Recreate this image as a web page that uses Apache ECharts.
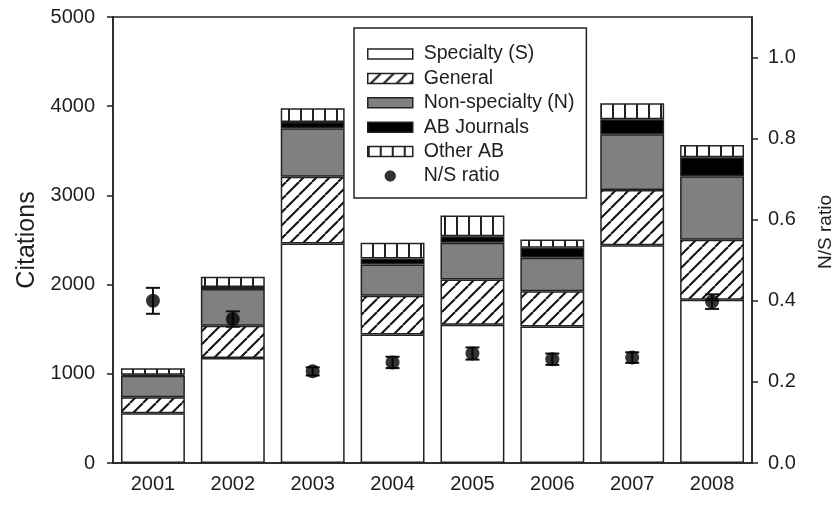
<!DOCTYPE html>
<html>
<head>
<meta charset="utf-8">
<script src="https://cdn.jsdelivr.net/npm/echarts@6/dist/echarts.min.js"></script>
<style>html,body{margin:0;padding:0;background:#fff}#c{width:839px;height:506px}</style>
</head>
<body>
<div id="c"></div>
<script>
const years = ['2001','2002','2003','2004','2005','2006','2007','2008'];
const specialty   = [558, 1176, 2461, 1440, 1550, 1531, 2440, 1831];
const general     = [180,  363,  749,  436,  506,  394,  620,  671];
const nonSpecialty= [240,  413,  543,  349,  413,  375,  625,  712];
const abJournals  = [10,    22,   71,   67,   74,  112,  169,  213];
const otherAB     = [75,   113,  154,  177,  232,   94,  180,  139];
const nsRatio     = [0.400, 0.355, 0.226, 0.248, 0.270, 0.256, 0.260, 0.398];
const nsError     = [0.032, 0.019, 0.010, 0.014, 0.015, 0.014, 0.013, 0.018];
const leftTicks   = [0, 1000, 2000, 3000, 4000, 5000];
const rightTicks  = [0, 0.2, 0.4, 0.6, 0.8, 1.0];

function hatch() {
  const s = 13, c = document.createElement('canvas');
  c.width = s; c.height = s;
  const x = c.getContext('2d');
  x.fillStyle = '#fff'; x.fillRect(0, 0, s, s);
  x.strokeStyle = '#111'; x.lineWidth = 2;
  for (const k of [-1, 0, 1]) { x.beginPath(); x.moveTo(k * s, s); x.lineTo(k * s + s, 0); x.stroke(); }
  return { image: c, repeat: 'repeat' };
}
function vlines() {
  const w = 12, h = 12, c = document.createElement('canvas');
  c.width = w; c.height = h;
  const x = c.getContext('2d');
  x.fillStyle = '#fff'; x.fillRect(0, 0, w, h);
  x.fillStyle = '#222'; x.fillRect(0, 0, 2, h);
  return { image: c, repeat: 'repeat' };
}

const font = 'Liberation Sans, Arial, sans-serif';
const txt = '#1e1e1e';
const border = { borderColor: '#222', borderWidth: 1.5 };
function barSeries(name, data, color) {
  return { name, type: 'bar', stack: 'c', data, barWidth: '80%', yAxisIndex: 0,
    itemStyle: Object.assign({ color }, border), emphasis: { disabled: true } };
}

const chart = echarts.init(document.getElementById('c'), null, { renderer: 'canvas' });
chart.setOption({
  animation: false,
  backgroundColor: '#fff',
  textStyle: { fontFamily: font, color: txt },
  grid: { left: 113, right: 87, top: 17, bottom: 43, show: true, borderColor: '#222', borderWidth: 1.5,
    backgroundColor: 'transparent', containLabel: false, outerBoundsMode: 'none' },
  legend: {
    orient: 'vertical', left: 354, top: 28,
    padding: [16, 12, 12, 13], itemGap: 4.4,
    itemWidth: 45, itemHeight: 10,
    borderColor: '#222', borderWidth: 1.5, backgroundColor: '#fff',
    itemStyle: { borderColor: '#222', borderWidth: 1.5 },
    textStyle: { fontFamily: font, fontSize: 19.5, color: txt, padding: [0, 0, 0, 6] },
    data: [
      { name: 'Specialty (S)', icon: 'rect' },
      { name: 'General', icon: 'rect' },
      { name: 'Non-specialty (N)', icon: 'rect' },
      { name: 'AB Journals', icon: 'rect' },
      { name: 'Other AB', icon: 'rect' },
      { name: 'N/S ratio', icon: 'circle' }
    ]
  },
  xAxis: {
    type: 'category', data: years, boundaryGap: true,
    axisLine: { lineStyle: { color: '#222', width: 1.5 } },
    axisTick: { alignWithLabel: true, length: 6, lineStyle: { color: '#222', width: 1.5 } },
    axisLabel: { fontSize: 20, color: txt, fontFamily: font, margin: 11 },
    splitLine: { show: false }
  },
  yAxis: [
    { type: 'value', min: 0, max: 5000, interval: 1000, position: 'left',
      name: 'Citations', nameLocation: 'middle', nameGap: 60, nameRotate: 90,
      nameTextStyle: { fontSize: 25, color: txt, fontFamily: font },
      axisLine: { show: true, lineStyle: { color: '#222', width: 1.5 } },
      axisTick: { show: true, length: 6, lineStyle: { color: '#222', width: 1.5 } },
      axisLabel: { fontSize: 20, color: txt, fontFamily: font, margin: 18,
        customValues: leftTicks, formatter: v => String(v) },
      splitLine: { show: false } },
    { type: 'value', min: 0, max: 1.1, interval: 0.2, position: 'right',
      name: 'N/S ratio', nameLocation: 'middle', nameGap: 64, nameRotate: 90,
      nameTextStyle: { fontSize: 19, color: txt, fontFamily: font, padding: [0, 0, 0, 16] },
      axisLine: { show: true, lineStyle: { color: '#222', width: 1.5 } },
      axisTick: { show: true, length: 6, customValues: rightTicks, lineStyle: { color: '#222', width: 1.5 } },
      axisLabel: { fontSize: 20, color: txt, fontFamily: font, margin: 16,
        customValues: rightTicks, formatter: v => v.toFixed(1) },
      splitLine: { show: false } }
  ],
  series: [
    barSeries('Specialty (S)', specialty, '#ffffff'),
    barSeries('General', general, hatch()),
    barSeries('Non-specialty (N)', nonSpecialty, '#808080'),
    barSeries('AB Journals', abJournals, '#000000'),
    barSeries('Other AB', otherAB, vlines()),
    {
      name: 'err', type: 'custom', yAxisIndex: 1, z: 5,
      data: nsRatio.map((v, i) => [i, v - nsError[i], v + nsError[i]]),
      renderItem: function (params, api) {
        const lo = api.coord([api.value(0), api.value(1)]);
        const hi = api.coord([api.value(0), api.value(2)]);
        const hw = 7;
        const st = { stroke: '#111', lineWidth: 2 };
        return { type: 'group', children: [
          { type: 'line', shape: { x1: lo[0], y1: lo[1], x2: hi[0], y2: hi[1] }, style: st },
          { type: 'line', shape: { x1: lo[0] - hw, y1: lo[1], x2: lo[0] + hw, y2: lo[1] }, style: st },
          { type: 'line', shape: { x1: hi[0] - hw, y1: hi[1], x2: hi[0] + hw, y2: hi[1] }, style: st }
        ] };
      }
    },
    { name: 'N/S ratio', type: 'scatter', yAxisIndex: 1, z: 6, data: nsRatio,
      symbol: 'circle', symbolSize: 14, itemStyle: { color: '#000' }, emphasis: { disabled: true } }
  ]
});
</script>
</body>
</html>
